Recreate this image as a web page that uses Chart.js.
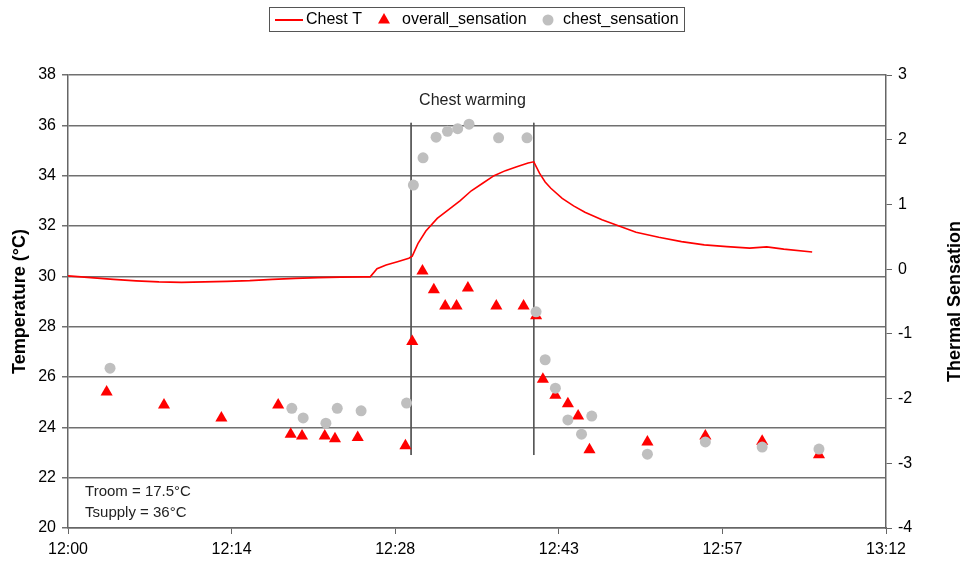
<!DOCTYPE html>
<html>
<head>
<meta charset="utf-8">
<script src="https://cdn.jsdelivr.net/npm/chart.js@4.4.1/dist/chart.umd.min.js"></script>
<style>
  html, body { margin: 0; padding: 0; background: #fff; }
</style>
</head>
<body>
<canvas id="chart" width="964" height="565"></canvas>
<script>
// minutes after 12:00
var xTickValues = [0, 14.4, 28.8, 43.2, 57.6, 72];
var xTickLabels = ['12:00', '12:14', '12:28', '12:43', '12:57', '13:12'];

var chestTime = [0, 2, 4, 6, 8, 10, 12, 14, 16, 18, 20, 22, 24, 26, 26.6, 27.2, 28, 29, 30, 30.3,
                 30.8, 31.5, 32.5, 33.5, 34.5, 35.5, 36.5, 37.5, 38.5, 39.5, 40.5, 41.0,
                 41.5, 42, 42.5, 43.5, 44.5, 45.5, 47, 48.5, 50, 52, 54, 56, 58, 60, 61.5, 63, 65.5];
var chestT = [30.02, 29.95, 29.88, 29.82, 29.78, 29.76, 29.78, 29.8, 29.83, 29.88, 29.92, 29.95, 29.97, 29.98, 29.98, 30.3, 30.45, 30.58, 30.72, 30.8,
              31.3, 31.8, 32.3, 32.65, 33.0, 33.4, 33.7, 34.0, 34.2, 34.35, 34.5, 34.55,
              34.1, 33.75, 33.5, 33.1, 32.8, 32.55, 32.25, 32.0, 31.75, 31.55, 31.38, 31.25, 31.18, 31.12, 31.17, 31.08, 30.97];

var overallTime = [3.4, 8.45, 13.5, 18.5, 19.6, 20.6, 22.6, 23.5, 25.5, 29.7, 30.3, 31.2, 32.2, 33.2, 34.2, 35.2,
                   37.7, 40.1, 41.2, 41.8, 42.9, 44.0, 44.9, 45.9, 51.0, 56.1, 61.1, 66.1];
var overallSensation = [-1.9, -2.1, -2.3, -2.1, -2.55, -2.58, -2.58, -2.62, -2.6, -2.73, -1.12, -0.03, -0.32, -0.57, -0.57, -0.29,
                        -0.57, -0.57, -0.72, -1.7, -1.95, -2.08, -2.27, -2.79, -2.67, -2.58, -2.66, -2.87];

var chestSensTime = [3.7, 19.7, 20.7, 22.7, 23.7, 25.8, 29.8, 30.4, 31.25, 32.4, 33.4, 34.3, 35.3, 37.9, 40.4,
                     41.2, 42.0, 42.9, 44.0, 45.2, 46.1, 51.0, 56.1, 61.1, 66.1];
var chestSensation = [-1.53, -2.15, -2.3, -2.38, -2.15, -2.19, -2.07, 1.30, 1.72, 2.04, 2.13, 2.17, 2.24, 2.03, 2.03,
                      -0.66, -1.40, -1.84, -2.33, -2.55, -2.27, -2.86, -2.67, -2.75, -2.78];

// start / end of chest warming, drawn on the temperature axis
var warmingTimes = [30.2, 41.0];
var warmingSpan = [36.1, 22.9];

var FONT = '"Liberation Sans", Arial, sans-serif';

function toPoints(xs, ys) {
  var pts = [];
  for (var i = 0; i < xs.length; i++) pts.push({x: xs[i], y: ys[i]});
  return pts;
}

var warmingLines = warmingTimes.map(function(t) {
  return {
    data: [{x: t, y: warmingSpan[0]}, {x: t, y: warmingSpan[1]}],
    showLine: true,
    borderColor: '#555',
    borderWidth: 1,
    pointRadius: 0,
    yAxisID: 'y',
    order: 5
  };
});

// legend, right title and the text notes
var extrasPlugin = {
  id: 'extras',
  afterDraw: function(chart) {
    var ctx = chart.ctx;
    var xs = chart.scales.x, ys = chart.scales.y;
    ctx.save();

    // legend box
    ctx.strokeStyle = '#555';
    ctx.lineWidth = 1;
    ctx.strokeRect(269.5, 7.5, 415, 24);
    ctx.strokeStyle = '#ff0000';
    ctx.lineWidth = 2;
    ctx.beginPath();
    ctx.moveTo(275, 20);
    ctx.lineTo(303, 20);
    ctx.stroke();
    ctx.fillStyle = '#ff0000';
    ctx.beginPath();
    ctx.moveTo(384, 13);
    ctx.lineTo(390, 23.5);
    ctx.lineTo(378, 23.5);
    ctx.closePath();
    ctx.fill();
    ctx.fillStyle = '#bfbfbf';
    ctx.beginPath();
    ctx.arc(548, 20, 5.5, 0, Math.PI * 2);
    ctx.fill();
    ctx.fillStyle = '#000';
    ctx.font = '16px ' + FONT;
    ctx.textBaseline = 'middle';
    ctx.textAlign = 'left';
    ctx.fillText('Chest T', 306, 20);
    ctx.fillText('overall_sensation', 402, 20);
    ctx.fillText('chest_sensation', 563, 20);

    // notes
    ctx.fillStyle = '#222';
    ctx.textAlign = 'center';
    ctx.fillText('Chest warming', xs.getPixelForValue(35.6), ys.getPixelForValue(36.97));
    ctx.textAlign = 'left';
    ctx.font = '15px ' + FONT;
    ctx.fillText('Troom = 17.5°C', xs.getPixelForValue(1.5), ys.getPixelForValue(21.45));
    ctx.fillText('Tsupply = 36°C', xs.getPixelForValue(1.5), ys.getPixelForValue(20.6));

    // right axis title
    ctx.fillStyle = '#000';
    ctx.font = 'bold 18px ' + FONT;
    ctx.textAlign = 'center';
    ctx.translate(955, (chart.chartArea.top + chart.chartArea.bottom) / 2);
    ctx.rotate(-Math.PI / 2);
    ctx.fillText('Thermal Sensation', 0, 0);
    ctx.restore();
  }
};

Chart.defaults.font.family = FONT;
Chart.defaults.font.size = 16;
Chart.defaults.color = '#000';

var chart = new Chart(document.getElementById('chart').getContext('2d'), {
  type: 'scatter',
  data: {
    datasets: [
      {
        label: 'Chest T',
        data: toPoints(chestTime, chestT),
        showLine: true,
        borderColor: '#ff0000',
        borderWidth: 1.6,
        pointRadius: 0,
        tension: 0,
        yAxisID: 'y',
        order: 3
      },
      {
        label: 'overall_sensation',
        data: toPoints(overallTime, overallSensation),
        pointStyle: 'triangle',
        pointRadius: 7,
        backgroundColor: '#ff0000',
        borderColor: '#ff0000',
        borderWidth: 0,
        yAxisID: 'y2',
        order: 2
      },
      {
        label: 'chest_sensation',
        data: toPoints(chestSensTime, chestSensation),
        pointStyle: 'circle',
        pointRadius: 5.5,
        backgroundColor: '#bfbfbf',
        borderColor: '#bfbfbf',
        borderWidth: 0,
        yAxisID: 'y2',
        order: 1
      }
    ].concat(warmingLines)
  },
  options: {
    responsive: false,
    animation: false,
    devicePixelRatio: 1,
    layout: {padding: {top: 75, left: 0, right: 0, bottom: 0}},
    plugins: {legend: {display: false}, tooltip: {enabled: false}},
    scales: {
      x: {
        type: 'linear',
        min: 0,
        max: 72,
        afterBuildTicks: function(scale) {
          scale.ticks = xTickValues.map(function(v) { return {value: v}; });
        },
        afterFit: function(scale) { scale.height = 37; },
        ticks: {
          autoSkip: false,
          maxRotation: 0,
          padding: 6,
          callback: function(value, index) { return xTickLabels[index]; }
        },
        grid: {drawOnChartArea: false, drawTicks: true, tickLength: 6, color: '#666'},
        border: {color: '#666', width: 1.5}
      },
      y: {
        position: 'left',
        min: 20,
        max: 38,
        afterFit: function(scale) { scale.width = 68; },
        ticks: {stepSize: 2, padding: 6},
        grid: {color: '#707070', lineWidth: 1.5, tickLength: 6},
        border: {color: '#666', width: 1.5},
        title: {
          display: true,
          text: 'Temperature (°C)',
          font: {size: 18, weight: 'bold'},
          padding: {top: 9, bottom: 0}
        }
      },
      y2: {
        position: 'right',
        min: -4,
        max: 3,
        afterFit: function(scale) { scale.width = 78; },
        ticks: {stepSize: 1, padding: 6},
        grid: {drawOnChartArea: false, tickLength: 6, color: '#666'},
        border: {color: '#666', width: 1.5}
      }
    }
  },
  plugins: [extrasPlugin]
});
</script>
</body>
</html>
